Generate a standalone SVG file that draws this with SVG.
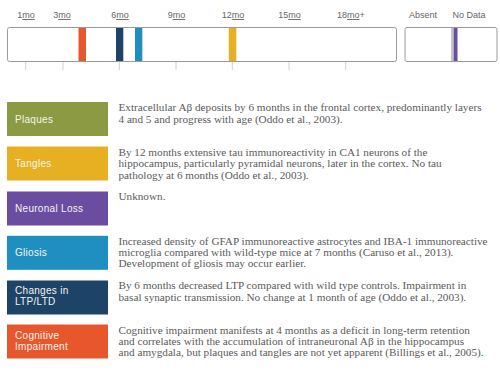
<svg xmlns="http://www.w3.org/2000/svg" width="500" height="372" viewBox="0 0 500 372">
<style>
.tick{font-family:"Liberation Sans",Arial,sans-serif;font-size:9px;fill:#666;text-anchor:middle}
.u{text-decoration:underline}
.box{fill:#fff;stroke:#9a9a9a;stroke-width:1}
.tk{stroke:#d0d0d0;stroke-width:1}
.lab{font-family:"Liberation Sans",Arial,sans-serif;font-size:10px;fill:#f4f4ee;letter-spacing:0.3px}
.desc{font-family:"Liberation Serif","Times New Roman",serif;font-size:11.2px;fill:#5a5a5a}
</style>
<rect width="500" height="372" fill="#fff"/>
<g id="timeline">
<text class="tick" x="26" y="18">1<tspan class="u">mo</tspan></text>
<text class="tick" x="62" y="18">3<tspan class="u">mo</tspan></text>
<text class="tick" x="120" y="18">6<tspan class="u">mo</tspan></text>
<text class="tick" x="176.5" y="18">9<tspan class="u">mo</tspan></text>
<text class="tick" x="233" y="18">12<tspan class="u">mo</tspan></text>
<text class="tick" x="289.5" y="18">15<tspan class="u">mo</tspan></text>
<text class="tick" x="337" y="18" style="text-anchor:start">18<tspan class="u">mo</tspan>+</text>
<line class="tk" x1="25.7" y1="62" x2="25.7" y2="70"/>
<line class="tk" x1="63" y1="62" x2="63" y2="70"/>
<line class="tk" x1="119.3" y1="62" x2="119.3" y2="70"/>
<line class="tk" x1="176" y1="62" x2="176" y2="70"/>
<line class="tk" x1="232.3" y1="62" x2="232.3" y2="70"/>
<line class="tk" x1="289" y1="62" x2="289" y2="70"/>
<line class="tk" x1="345.7" y1="62" x2="345.7" y2="70"/>
<rect class="box" x="7.5" y="27.5" width="389" height="34" rx="2"/>
<rect x="78.5" y="28" width="7.5" height="33" fill="#e8562c"/>
<rect x="116" y="28" width="7.3" height="33" fill="#1d4467"/>
<rect x="135" y="28" width="7.3" height="33" fill="#1f8fc2"/>
<rect x="228.8" y="28" width="7.5" height="33" fill="#e6b022"/>
</g>
<g id="status">
<text class="tick" x="423" y="18">Absent</text>
<text class="tick" x="469" y="18">No Data</text>
<rect class="box" x="405" y="27.5" width="92" height="34" rx="2"/>
<line x1="452" y1="28" x2="452" y2="61" stroke="#888" stroke-width="1"/>
<rect x="453.5" y="28" width="4" height="33" fill="#6a4ca0"/>
</g>
<g id="plaques">
<rect x="7" y="102" width="101" height="34" fill="#8b9a43"/>
<text class="lab" x="15" y="122.5">Plaques</text>
<text class="desc" x="118.5" y="111">Extracellular Aβ deposits by 6 months in the frontal cortex, predominantly layers</text>
<text class="desc" x="118.5" y="123">4 and 5 and progress with age (Oddo et al., 2003).</text>
</g>
<g id="tangles">
<rect x="7" y="146.5" width="101" height="34" fill="#e6b022"/>
<text class="lab" x="15" y="167">Tangles</text>
<text class="desc" x="118.5" y="155.5">By 12 months extensive tau immunoreactivity in CA1 neurons of the</text>
<text class="desc" x="118.5" y="167">hippocampus, particularly pyramidal neurons, later in the cortex. No tau</text>
<text class="desc" x="118.5" y="178.5">pathology at 6 months (Oddo et al., 2003).</text>
</g>
<g id="neuronal-loss">
<rect x="7" y="191.5" width="101" height="34" fill="#6a4ca0"/>
<text class="lab" x="15" y="212">Neuronal Loss</text>
<text class="desc" x="118.5" y="200">Unknown.</text>
</g>
<g id="gliosis">
<rect x="7" y="235.8" width="101" height="34" fill="#1f8fc2"/>
<text class="lab" x="15" y="256">Gliosis</text>
<text class="desc" x="118.5" y="244.5">Increased density of GFAP immunoreactive astrocytes and IBA-1 immunoreactive</text>
<text class="desc" x="118.5" y="256">microglia compared with wild-type mice at 7 months (Caruso et al., 2013).</text>
<text class="desc" x="118.5" y="267">Development of gliosis may occur earlier.</text>
</g>
<g id="ltp-ltd">
<rect x="7" y="280.5" width="101" height="34" fill="#1d4467"/>
<text class="lab" x="15" y="293.5">Changes in</text>
<text class="lab" x="15" y="305">LTP/LTD</text>
<text class="desc" x="118.5" y="289">By 6 months decreased LTP compared with wild type controls. Impairment in</text>
<text class="desc" x="118.5" y="300.5">basal synaptic transmission. No change at 1 month of age (Oddo et al., 2003).</text>
</g>
<g id="cognitive">
<rect x="7" y="324.5" width="101" height="34" fill="#e8562c"/>
<text class="lab" x="15" y="339">Cognitive</text>
<text class="lab" x="15" y="350">Impairment</text>
<text class="desc" x="118.5" y="333.5">Cognitive impairment manifests at 4 months as a deficit in long-term retention</text>
<text class="desc" x="118.5" y="345">and correlates with the accumulation of intraneuronal Aβ in the hippocampus</text>
<text class="desc" x="118.5" y="356">and amygdala, but plaques and tangles are not yet apparent (Billings et al., 2005).</text>
</g>
</svg>
